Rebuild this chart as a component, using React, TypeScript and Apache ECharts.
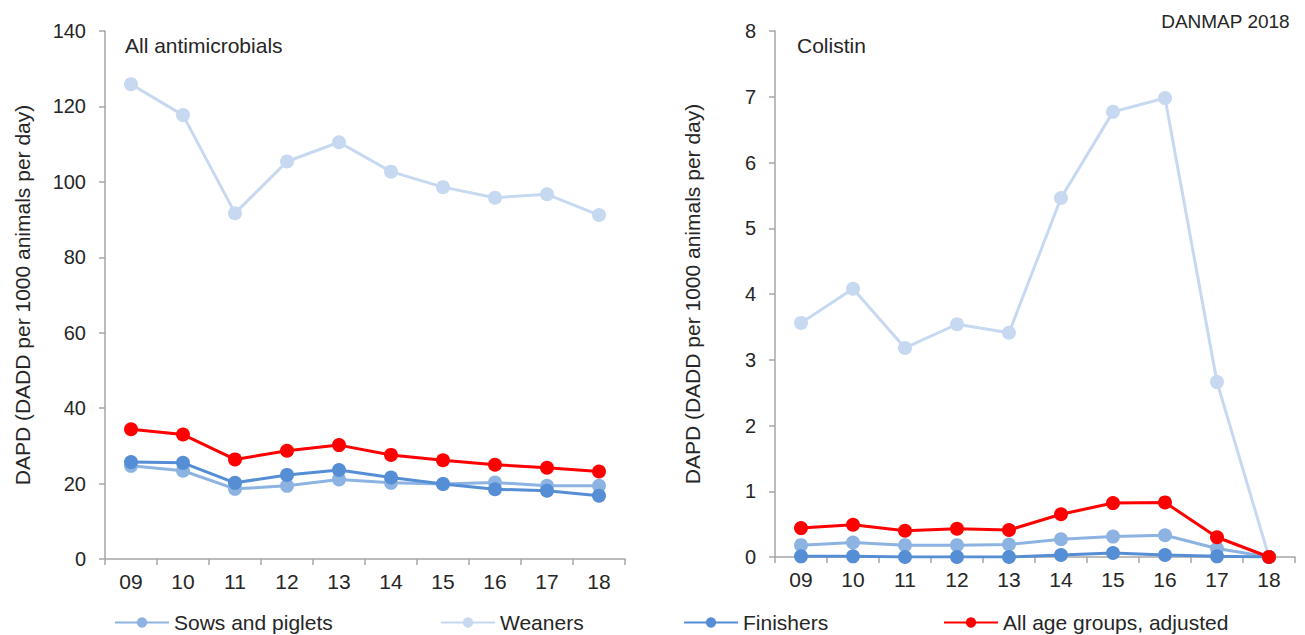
import React, { useEffect, useRef } from "react";
import * as echarts from "echarts";

const years = ["09", "10", "11", "12", "13", "14", "15", "16", "17", "18"];

const allSows = [24.7, 23.4, 18.6, 19.4, 21.1, 20.2, 19.9, 20.3, 19.4, 19.4];
const allWeaners = [125.9, 117.7, 91.7, 105.4, 110.5, 102.7, 98.6, 95.8, 96.7, 91.2];
const allFinishers = [25.7, 25.5, 20.2, 22.3, 23.6, 21.6, 19.9, 18.5, 18.1, 16.8];
const allAdjusted = [34.4, 33.0, 26.4, 28.7, 30.2, 27.6, 26.2, 25.0, 24.2, 23.2];

const colSows = [0.18, 0.22, 0.18, 0.18, 0.19, 0.27, 0.31, 0.33, 0.13, 0.0];
const colWeaners = [3.56, 4.08, 3.18, 3.54, 3.41, 5.46, 6.77, 6.98, 2.66, 0.0];
const colFinishers = [0.01, 0.01, 0.0, 0.0, 0.0, 0.03, 0.06, 0.03, 0.01, 0.0];
const colAdjusted = [0.44, 0.49, 0.4, 0.43, 0.41, 0.65, 0.82, 0.83, 0.3, 0.0];

const names = ["Sows and piglets", "Weaners", "Finishers", "All age groups, adjusted"];
const colors = ["#8DB3E2", "#C6D9F1", "#558ED5", "#FF0000"];

const FONT = "Liberation Sans, Arial, sans-serif";
const TXT = "#262626";
const AXC = "#A6A6A6";
const FS = 21;

export default function App() {
  const ref = useRef<HTMLDivElement>(null);
  useEffect(() => {
    if (!ref.current) return;
    const chart = echarts.init(ref.current, null, { renderer: "svg" });
    const xAxis = (gi: number) => ({
      type: "category",
      gridIndex: gi,
      data: years,
      boundaryGap: true,
      axisLine: { lineStyle: { color: AXC, width: 1.5 } },
      axisTick: { show: true, length: 6, lineStyle: { color: AXC, width: 1.5 } },
      axisLabel: { color: TXT, fontSize: FS, fontFamily: FONT, margin: 12 },
    });
    const yAxis = (gi: number, max: number, interval: number) => ({
      type: "value",
      gridIndex: gi,
      min: 0,
      max,
      interval,
      name: "DAPD (DADD per 1000 animals per day)",
      nameLocation: "middle",
      nameGap: 72,
      nameTextStyle: { color: TXT, fontSize: FS, fontFamily: FONT },
      axisLine: { show: true, lineStyle: { color: AXC, width: 1.5 } },
      axisTick: { show: true, length: 6, lineStyle: { color: AXC, width: 1.5 } },
      splitLine: { show: false },
      axisLabel: { color: TXT, fontSize: 20, fontFamily: FONT, margin: 19 },
    });
    const mk = (name: string, data: number[], idx: number, gi: number) => ({
      name,
      type: "line",
      xAxisIndex: gi,
      yAxisIndex: gi,
      data,
      symbol: "circle",
      symbolSize: 14,
      lineStyle: { color: colors[idx], width: 3 },
      itemStyle: { color: colors[idx] },
      z: idx === 3 ? 5 : idx === 2 ? 4 : idx === 0 ? 3 : 2,
    });
    const legendLefts = [114, 440, 683, 943];
    chart.setOption({
      animation: false,
      grid: [
        { left: 105, right: 680, top: 31, bottom: 76 },
        { left: 775, right: 10, top: 31, bottom: 78 },
      ],
      xAxis: [xAxis(0), xAxis(1)],
      yAxis: [yAxis(0, 140, 20), yAxis(1, 8, 1)],
      legend: names.map((n, i) => ({
        data: [n],
        left: legendLefts[i],
        top: 612,
        padding: 0,
        itemWidth: 54,
        itemHeight: 13,
        itemGap: 0,
        textStyle: { color: TXT, fontSize: FS, fontFamily: FONT },
      })),
      graphic: [
        {
          type: "text",
          left: 125,
          top: 35,
          style: { text: "All antimicrobials", fontSize: FS, fontFamily: FONT, fill: TXT },
        },
        {
          type: "text",
          left: 797,
          top: 35,
          style: { text: "Colistin", fontSize: FS, fontFamily: FONT, fill: TXT },
        },
        {
          type: "text",
          right: 15,
          top: 12,
          style: { text: "DANMAP 2018", fontSize: 19, fontFamily: FONT, fill: TXT },
        },
      ],
      series: [
        mk(names[1], allWeaners, 1, 0),
        mk(names[0], allSows, 0, 0),
        mk(names[2], allFinishers, 2, 0),
        mk(names[3], allAdjusted, 3, 0),
        mk(names[1], colWeaners, 1, 1),
        mk(names[0], colSows, 0, 1),
        mk(names[2], colFinishers, 2, 1),
        mk(names[3], colAdjusted, 3, 1),
      ],
    });
    return () => chart.dispose();
  }, []);
  return (
    <div
      ref={ref}
      style={{ position: "fixed", left: 0, top: 0, width: 1305, height: 635, background: "#fff" }}
    />
  );
}
